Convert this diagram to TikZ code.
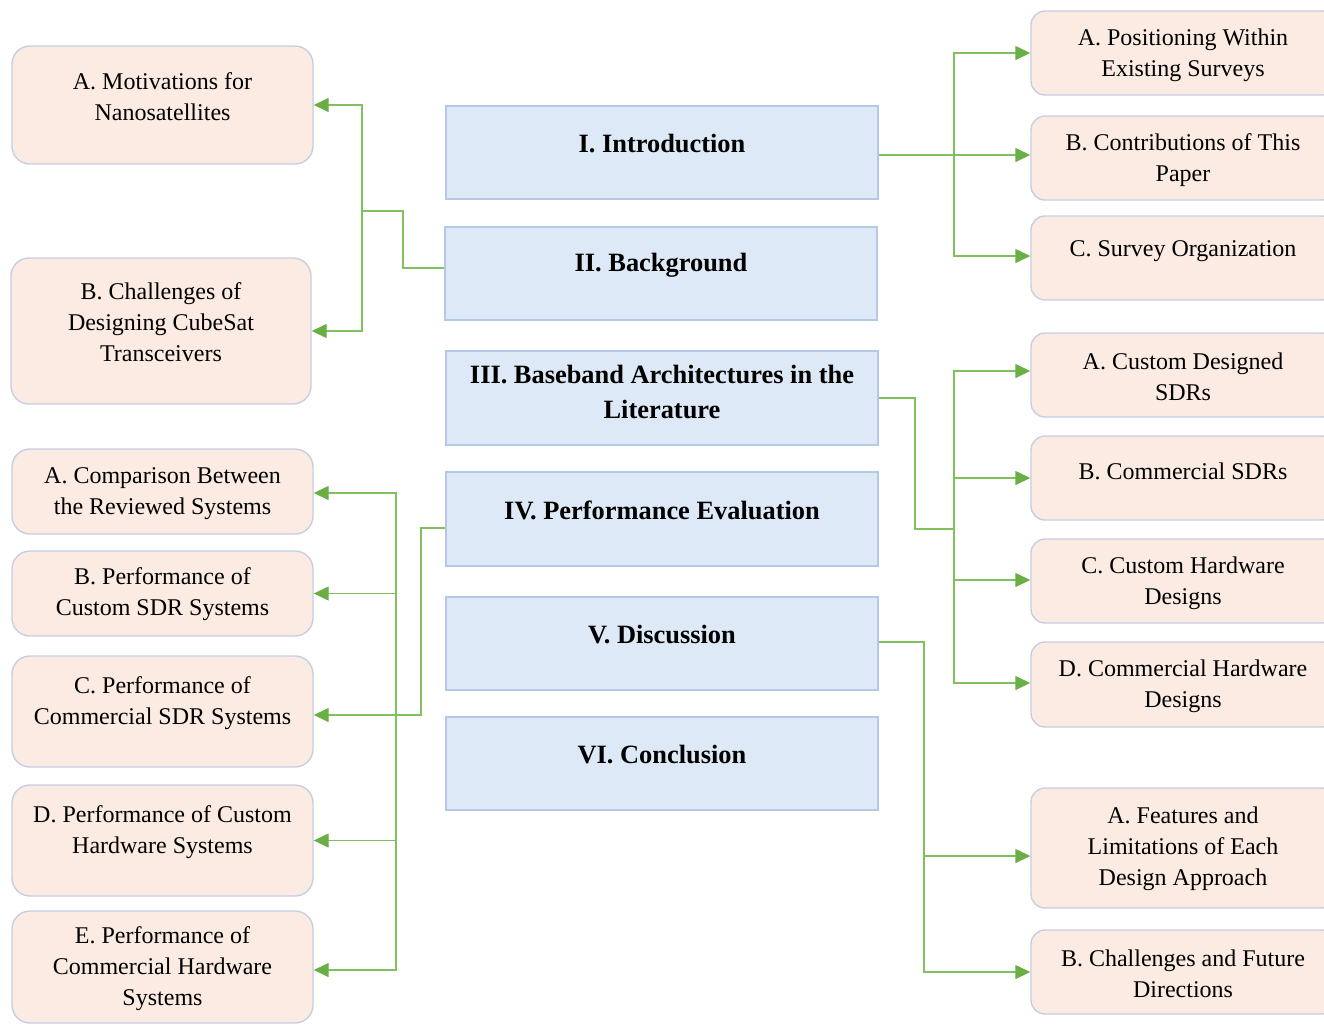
\documentclass[tikz,border=0pt]{standalone}
\usepackage{fontspec}
\setmainfont{Liberation Serif}
\usetikzlibrary{arrows.meta}
\definecolor{peachfill}{HTML}{FBEBE2}
\definecolor{peachline}{HTML}{C6CEE2}
\definecolor{bluefill}{HTML}{DDE9F6}
\definecolor{blueline}{HTML}{B5C8E6}
\definecolor{linkgreen}{HTML}{80C15E}
\definecolor{tipgreen}{HTML}{6AAE45}
\tikzset{
  pbox/.style={draw=peachline, fill=peachfill, line width=1.4pt, rounded corners=18pt, inner sep=0pt},
  rbox/.style={draw=peachline, fill=peachfill, line width=1.4pt, rounded corners=14pt, inner sep=0pt},
  mbox/.style={draw=blueline, fill=bluefill, line width=1.4pt, inner sep=0pt, minimum width=432pt, minimum height=93pt},
  ptext/.style={align=center, inner sep=0pt, font=\fontsize{24}{31}\selectfont},
  mtext/.style={align=center, inner sep=0pt, font=\fontsize{26.4}{35}\selectfont\bfseries},
  link/.style={draw=linkgreen, line width=1.4pt},
  arr/.style={link, -{Triangle[length=15pt, width=14pt, fill=tipgreen, color=tipgreen]}},
}
\begin{document}
\begin{tikzpicture}[x=1pt, y=-1pt]
\useasboundingbox (0,0) rectangle (1324,1026);

% ---- central chapter boxes ----
\node[mbox] (s1) at (662,152.5) {};
\node[mtext] at (662,144) {I. Introduction};
\node[mbox] (s2) at (661,273.5) {};
\node[mtext] at (661,265) {II. Background};
\node[mbox, minimum height=94pt] (s3) at (662,398) {};
\node[mtext] at (662,392) {III. Baseband Architectures in the\\Literature};
\node[mbox, minimum height=94pt] (s4) at (662,519) {};
\node[mtext] at (662,510) {IV. Performance Evaluation};
\node[mbox] (s5) at (662,643.5) {};
\node[mtext] at (662,635) {V. Discussion};
\node[mbox] (s6) at (662,763.5) {};
\node[mtext] at (662,755) {VI. Conclusion};

% ---- left column ----
\node[pbox, minimum width=301pt, minimum height=118pt] (la) at (162.5,105) {};
\node[ptext] at (162.5,96.5) {A. Motivations for\\Nanosatellites};
\node[pbox, minimum width=300pt, minimum height=146pt] (lb) at (161,331) {};
\node[ptext] at (161,322) {B. Challenges of\\Designing CubeSat\\Transceivers};

\node[pbox, minimum width=301pt, minimum height=85pt] (pa) at (162.5,491.5) {};
\node[ptext] at (162.5,493.5) {A. Comparison Between\\the Reviewed Systems};
\node[pbox, minimum width=301pt, minimum height=85pt] (pb) at (162.5,593.5) {};
\node[ptext] at (162.5,594.5) {B. Performance of\\Custom SDR Systems};
\node[pbox, minimum width=301pt, minimum height=111pt] (pc) at (162.5,711.5) {};
\node[ptext] at (162.5,703) {C. Performance of\\Commercial SDR Systems};
\node[pbox, minimum width=301pt, minimum height=111pt] (pd) at (162.5,840.5) {};
\node[ptext] at (162.5,832) {D. Performance of Custom\\Hardware Systems};
\node[pbox, minimum width=301pt, minimum height=112pt] (pe) at (162.5,967) {};
\node[ptext] at (162.5,969) {E. Performance of\\Commercial Hardware\\Systems};

% ---- right column ----
\node[rbox, minimum width=305pt, minimum height=84pt] (ia) at (1183.5,53) {};
\node[ptext] at (1183,55) {A. Positioning Within\\Existing Surveys};
\node[rbox, minimum width=305pt, minimum height=84pt] (ib) at (1183.5,158) {};
\node[ptext] at (1183,160) {B. Contributions of This\\Paper};
\node[rbox, minimum width=305pt, minimum height=84pt] (ic) at (1183.5,258) {};
\node[ptext] at (1183,251.5) {C. Survey Organization};

\node[rbox, minimum width=305pt, minimum height=84pt] (ba) at (1183.5,375) {};
\node[ptext] at (1183,376.5) {A. Custom Designed\\SDRs};
\node[rbox, minimum width=305pt, minimum height=84pt] (bb) at (1183.5,478) {};
\node[ptext] at (1183,471) {B. Commercial SDRs};
\node[rbox, minimum width=305pt, minimum height=84pt] (bc) at (1183.5,581) {};
\node[ptext] at (1183,583.5) {C. Custom Hardware\\Designs};
\node[rbox, minimum width=305pt, minimum height=85pt] (bd) at (1183.5,684.5) {};
\node[ptext] at (1183,686) {D. Commercial Hardware\\Designs};

\node[rbox, minimum width=305pt, minimum height=120pt] (da) at (1183.5,848) {};
\node[ptext] at (1183,848.5) {A. Features and\\Limitations of Each\\Design Approach};
\node[rbox, minimum width=305pt, minimum height=84pt] (db) at (1183.5,972) {};
\node[ptext] at (1183,973.5) {B. Challenges and Future\\Directions};

% ---- junctions of the connector trees ----
\coordinate (j1) at (954,155);
\coordinate (j2a) at (403,211);
\coordinate (j2) at (362,211);
\coordinate (j3a) at (915,529);
\coordinate (j3) at (954,529);
\coordinate (j4a) at (421,715);
\coordinate (j4) at (396,715);
\coordinate (j5) at (924,856);

% I. Introduction
\draw[arr] (s1.east |- j1) -- (ib.west |- j1);
\draw[arr] (j1) |- (ia.west);
\draw[arr] (j1) |- ([yshift=2pt]ic.west);
% II. Background
\draw[link] (s2.west |- 0,268) -| (j2a) -- (j2);
\draw[arr] (j2) |- (la.east);
\draw[arr] (j2) |- (lb.east);
% III. Baseband architectures
\draw[link] (s3.east) -| (j3a) -- (j3);
\draw[arr] (j3) |- ([yshift=4pt]ba.west);
\draw[arr] (j3) |- (bb.west);
\draw[arr] (j3) |- ([yshift=1pt]bc.west);
\draw[arr] (j3) |- ([yshift=1.5pt]bd.west);
% IV. Performance evaluation
\draw[arr] (s4.west |- 0,528) -| (j4a) -- (pc.east |- j4a);
\draw[arr] (j4) |- ([yshift=-1.5pt]pa.east);
\draw[arr] (j4) |- (pb.east);
\draw[arr] (j4) |- (pd.east);
\draw[arr] (j4) |- ([yshift=-3pt]pe.east);
% V. Discussion
\draw[link] (s5.east |- 0,642) -| (j5);
\draw[arr] (j5) -- (da.west |- j5);
\draw[arr] (j5) |- (db.west);
\end{tikzpicture}
\end{document}
